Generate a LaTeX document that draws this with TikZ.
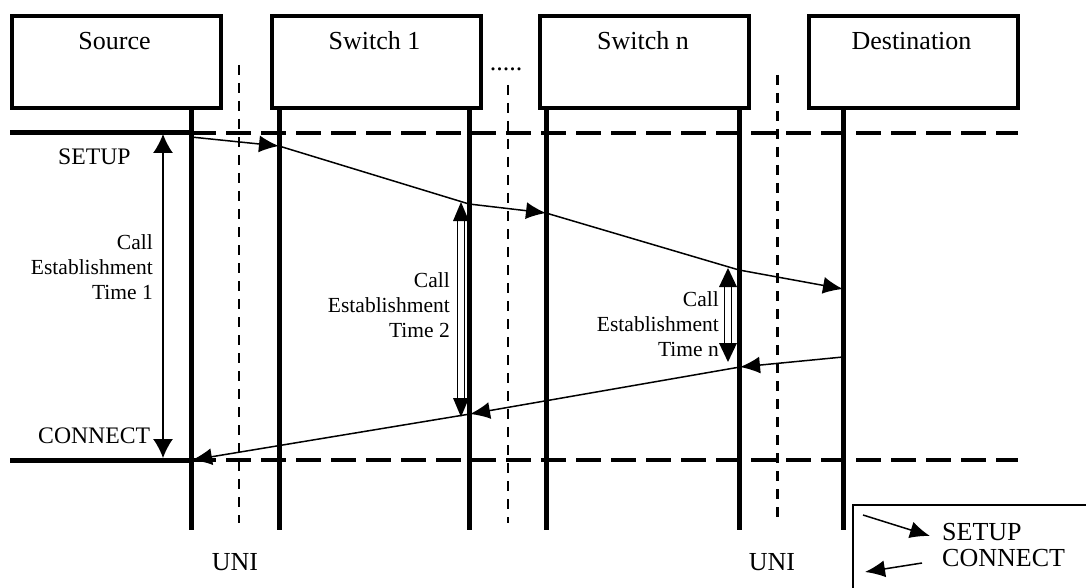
\documentclass[tikz,border=0pt]{standalone}
\usepackage{fontspec}
\setmainfont{Liberation Serif}
\usetikzlibrary{arrows.meta}
\tikzset{
  box/.style={draw, line width=4pt, minimum width=209pt, minimum height=92pt, anchor=north west, inner sep=0pt},
  boxtext/.style={font=\fontsize{26}{30}\selectfont, anchor=base, inner sep=0pt},
  life/.style={line width=5pt},
  solidh/.style={line width=5pt},
  dashh/.style={line width=4pt, dash pattern=on 25pt off 10pt},
  dashv/.style={line width=2.5pt, dash pattern=on 10pt off 8pt},
  msg/.style={line width=1.5pt, -{Latex[length=20pt,width=17pt]}},
  seg/.style={line width=1.5pt},
  tarrow/.style={line width=1.5pt, {Latex[length=19pt,width=20pt]}-{Latex[length=19pt,width=20pt]}},
  shaft/.style={line width=1.5pt},
  lbl/.style={font=\fontsize{23.7}{28}\selectfont, inner sep=0pt},
  tlbl/.style={font=\fontsize{21.5}{25}\selectfont, align=right, anchor=east, inner sep=0pt},
  legtext/.style={font=\fontsize{26}{30}\selectfont, anchor=base west, inner sep=0pt}
}
\begin{document}
\begin{tikzpicture}[x=1pt,y=-1pt]
\useasboundingbox (0,0) rectangle (1086,588);

% boxes
\node[box] (src) at (10,14) {};
\node[box] (sw1) at (270,14) {};
\node[box] (swn) at (538,14) {};
\node[box] (dst) at (807,14) {};
\node[boxtext] (srcT) at (114.5,50) {Source};
\node[boxtext] (sw1T) at (374.5,50) {Switch 1};
\node[boxtext] (swnT) at (643,50) {Switch n};
\node[boxtext] (dstT) at (911.5,50) {Destination};
\node[boxtext] (dots) at (506,71) {.....};

% lifeline coordinates
\coordinate (Ltop0) at (191,108); \coordinate (Lbot0) at (191,530);
\coordinate (Ltop1) at (279,108); \coordinate (Lbot1) at (279,530);
\coordinate (Ltop2) at (469,108); \coordinate (Lbot2) at (469,530);
\coordinate (Ltop3) at (546,108); \coordinate (Lbot3) at (546,530);
\coordinate (Ltop4) at (739,108); \coordinate (Lbot4) at (739,530);
\coordinate (Ltop5) at (843,108); \coordinate (Lbot5) at (843,530);
\foreach \i in {0,...,5} {\draw[life] (Ltop\i) -- (Lbot\i);}

% UNI / middle dashed verticals
\coordinate (U1t) at (239,65);  \coordinate (U1b) at (239,523);
\coordinate (Mt)  at (508,85);  \coordinate (Mb)  at (508,523);
\coordinate (U2t) at (777.5,75); \coordinate (U2b) at (777.5,523);
\draw[dashv] (U1t) -- (U1b);
\draw[dashv] (Mt) -- (Mb);
\draw[dashv] (U2t) -- (U2b);

% horizontal lines
\coordinate (H1a) at (10,133); \coordinate (H1b) at (191,133); \coordinate (H1c) at (1018,133);
\coordinate (H2a) at (10,460); \coordinate (H2b) at (191,460); \coordinate (H2c) at (1018,460);
\draw[solidh] (H1a) -- (H1b);
\draw[dashh] (H1b) -- (H1c);
\draw[solidh] (H2a) -- (H2b);
\draw[dashh] (H2b) -- (H2c);

% SETUP chain
\coordinate (a0) at (191,137);
\coordinate (a1) at (279,146);
\coordinate (a2) at (469,204);
\coordinate (a3) at (546,213);
\coordinate (a4) at (739,270);
\coordinate (a5) at (843,289);
\draw[msg] (a0) -- (a1);
\draw[seg] (a1) -- (a2);
\draw[msg] (a2) -- (a3);
\draw[seg] (a3) -- (a4);
\draw[msg] (a4) -- (a5);

% CONNECT chain
\coordinate (c0) at (843,357);
\coordinate (c1) at (740,367);
\coordinate (c2) at (470,414);
\coordinate (c3) at (192,460);
\draw[msg] (c0) -- (c1);
\draw[msg] (c1) -- (c2);
\draw[msg] (c2) -- (c3);

% Call establishment time 1
\coordinate (t1a) at (163,134); \coordinate (t1b) at (163,458);
\draw[tarrow] (t1a) -- (t1b);

% Call establishment time 2 (double shaft)
\coordinate (t2a) at (461,202); \coordinate (t2b) at (461,417);
\draw[shaft] ([xshift=-3.5pt,yshift=-18pt]t2a) -- ([xshift=-3.5pt,yshift=18pt]t2b);
\draw[shaft] ([xshift=3.5pt,yshift=-18pt]t2a) -- ([xshift=3.5pt,yshift=18pt]t2b);
\fill (t2a) -- ++(-8,19) -- ++(16,0) -- cycle;
\fill (t2b) -- ++(-8,-19) -- ++(16,0) -- cycle;

% Call establishment time n (double shaft)
\coordinate (tna) at (728,268); \coordinate (tnb) at (728,362);
\draw[shaft] ([xshift=-3.5pt,yshift=-18pt]tna) -- ([xshift=-3.5pt,yshift=18pt]tnb);
\draw[shaft] ([xshift=3.5pt,yshift=-18pt]tna) -- ([xshift=3.5pt,yshift=18pt]tnb);
\fill (tna) -- ++(-9,19) -- ++(18,0) -- cycle;
\fill (tnb) -- ++(-9,-19) -- ++(18,0) -- cycle;

% labels
\node[lbl, anchor=base west] (setupL) at (58,165) {SETUP};
\node[lbl, anchor=base west] (connL) at (38,443) {CONNECT};
\node[tlbl] (t1T) at (153,267) {Call\\Establishment\\Time 1};
\node[tlbl] (t2T) at (450,305) {Call\\Establishment\\Time 2};
\node[tlbl] (tnT) at (719,324) {Call\\Establishment\\Time n};
\node[boxtext] (uni1) at (235,570) {UNI};
\node[boxtext] (uni2) at (772,570) {UNI};

% legend
\coordinate (lgA) at (1086,505); \coordinate (lgB) at (853,505); \coordinate (lgC) at (853,588);
\draw[line width=2pt] (lgA) -- (lgB) -- (lgC);
\coordinate (ls0) at (863,515); \coordinate (ls1) at (930,536);
\coordinate (lc0) at (922,563); \coordinate (lc1) at (865,572);
\draw[msg] (ls0) -- (ls1);
\draw[msg] (lc0) -- (lc1);
\node[legtext] (legS) at (942,540) {SETUP};
\node[legtext] (legC) at (942,566) {CONNECT};
\end{tikzpicture}
\end{document}
